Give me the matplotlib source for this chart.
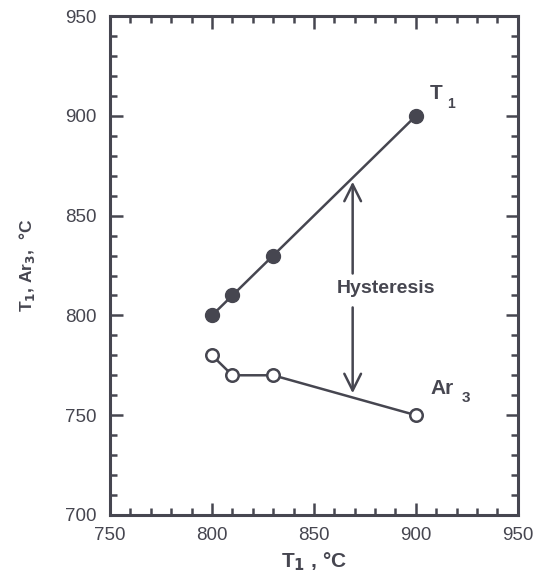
import matplotlib.pyplot as plt
from matplotlib.ticker import MultipleLocator

plt.rcParams['font.family'] = ['Liberation Sans', 'DejaVu Sans']

INK = '#464650'

# data
t1_x = [800, 810, 830, 900]
t1_y = [800, 810, 830, 900]
ar3_x = [800, 810, 830, 900]
ar3_y = [780, 770, 770, 750]

x_ticks = [750, 800, 850, 900, 950]
y_ticks = [700, 750, 800, 850, 900, 950]

fig = plt.figure(figsize=(5.38, 5.76), dpi=100)
ax = fig.add_axes([0.2045, 0.106, 0.758, 0.866])

# T1 (filled) and Ar3 (open) curves
ax.plot(t1_x, t1_y, color=INK, lw=1.8, marker='o', ms=10,
        mfc=INK, mec=INK, zorder=3)
ax.plot(ar3_x, ar3_y, color=INK, lw=1.8, marker='o', ms=9,
        mfc='white', mec=INK, mew=1.8, zorder=3)

# hysteresis double arrow split by the label
ax.annotate('', xy=(869, 867), xytext=(869, 821),
            arrowprops=dict(arrowstyle='->', color=INK, lw=1.8,
                            mutation_scale=30, shrinkA=0, shrinkB=0))
ax.annotate('', xy=(869, 761), xytext=(869, 804),
            arrowprops=dict(arrowstyle='->', color=INK, lw=1.8,
                            mutation_scale=30, shrinkA=0, shrinkB=0))
ax.text(885.5, 813.5, 'Hysteresis', ha='center', va='center',
        fontsize=14, fontweight='bold', color=INK)

ax.text(907, 911, 'T', fontsize=15, fontweight='bold', color=INK,
        ha='left', va='center')
ax.text(915.5, 906, '1', fontsize=10, fontweight='bold', color=INK,
        ha='left', va='center')
ax.text(907, 763.5, 'Ar', fontsize=15, fontweight='bold', color=INK,
        ha='left', va='center')
ax.text(922.5, 758.5, '3', fontsize=11, fontweight='bold', color=INK,
        ha='left', va='center')

ax.set_xlim(750, 950)
ax.set_ylim(700, 950)
ax.set_xticks(x_ticks)
ax.set_yticks(y_ticks)
ax.xaxis.set_minor_locator(MultipleLocator(10))
ax.yaxis.set_minor_locator(MultipleLocator(10))

ax.tick_params(which='both', direction='in', top=True, right=True,
               colors=INK, width=1.8)
ax.tick_params(which='major', length=9, labelsize=13.5, pad=9)
ax.tick_params(which='minor', length=5)
ax.tick_params(axis='y', pad=10)
for sp in ax.spines.values():
    sp.set_linewidth(2.2)
    sp.set_color(INK)

ax.set_xlabel(r'T$_\mathbf{1}$ , °C', fontsize=15, fontweight='bold',
              color=INK, labelpad=4)
ax.set_ylabel(r'T$_\mathbf{1}$, Ar$_\mathbf{3}$,  °C', fontsize=12.5,
              fontweight='bold', color=INK, labelpad=20)

fig.savefig('out.png', dpi=100)
